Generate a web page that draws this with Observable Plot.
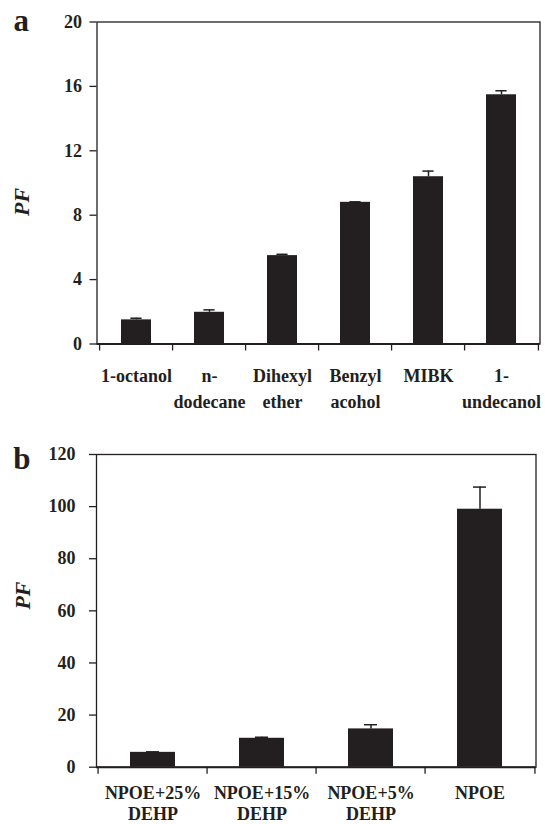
<!DOCTYPE html>
<html>
<head>
<meta charset="utf-8">
<script src="https://cdn.jsdelivr.net/npm/d3@7"></script>
<script src="https://cdn.jsdelivr.net/npm/@observablehq/plot@0.6"></script>
<style>
  html, body { margin: 0; padding: 0; background: #fff; }
  #chart svg { display: block; }
  #chart svg text { font-weight: bold; }
</style>
</head>
<body>
<div id="chart"></div>
<script>
// ---- Panel a data ----
const solventsA = ["1-octanol", "n-dodecane", "Dihexyl ether", "Benzyl acohol", "MIBK", "1-undecanol"];
const labelsA = ["1-octanol", "n-\ndodecane", "Dihexyl\nether", "Benzyl\nacohol", "MIBK", "1-\nundecanol"];
const pfA = [1.50, 1.97, 5.49, 8.80, 10.39, 15.48];
const errA = [0.10, 0.15, 0.08, 0.03, 0.35, 0.25];
const yTicksA = [0, 4, 8, 12, 16, 20];

// ---- Panel b data ----
const phasesB = ["NPOE+25% DEHP", "NPOE+15% DEHP", "NPOE+5% DEHP", "NPOE"];
const labelsB = ["NPOE+25%\nDEHP", "NPOE+15%\nDEHP", "NPOE+5%\nDEHP", "NPOE"];
const pfB = [5.7, 11.1, 14.7, 99.0];
const errB = [0.2, 0.4, 1.6, 8.5];
const yTicksB = [0, 20, 40, 60, 80, 100, 120];

const INK = "#231f20";
const FONT = "'Liberation Serif', 'Times New Roman', serif";

function panel(opt) {
  const {cats, labels, values, errs, yTicks, letter, W, H, ml, mr, mt, mb,
         pad, capInset, tickPad, xPad, lineHeight, letterDx, letterDy, pfDx, pfDy} = opt;
  const rows = cats.map((c, i) => ({cat: c, v: values[i], hi: values[i] + errs[i]}));
  const step = (W - ml - mr) / cats.length;
  const last = cats[cats.length - 1];
  return Plot.plot({
    width: W, height: H,
    marginLeft: ml, marginRight: mr, marginTop: mt, marginBottom: mb,
    style: {fontFamily: FONT, fontWeight: "bold", color: INK, background: "#fff"},
    x: {domain: cats, paddingInner: pad, paddingOuter: pad / 2, label: null},
    y: {domain: [yTicks[0], yTicks[yTicks.length - 1]], label: null},
    marks: [
      Plot.barY(rows, {x: "cat", y: "v", fill: INK}),
      Plot.ruleX(rows, {x: "cat", y1: "v", y2: "hi", stroke: INK, strokeWidth: 1.5}),
      Plot.tickY(rows, {x: "cat", y: "hi", stroke: INK, strokeWidth: 1.5, insetLeft: capInset, insetRight: capInset}),
      Plot.frame({stroke: INK, strokeWidth: 1.3}),
      Plot.ruleY([yTicks[0]], {stroke: INK, strokeWidth: 2}),
      Plot.axisY({ticks: yTicks, tickSize: 7, tickPadding: tickPad, fontSize: 18, fontWeight: "bold",
                  fill: INK, stroke: INK, strokeWidth: 1.3, label: null}),
      // category boundary ticks
      Plot.axisX({ticks: cats, tickSize: 7, dx: -step / 2, fill: "none", stroke: INK, strokeWidth: 1.3, label: null}),
      Plot.axisX({ticks: [last], tickSize: 7, dx: step / 2, fill: "none", stroke: INK, strokeWidth: 1.3, label: null}),
      // category labels
      Plot.axisX({ticks: cats, tickSize: 0, tickPadding: xPad, fontSize: 18, fontWeight: "bold", fill: INK,
                  lineHeight, tickFormat: (d) => labels[cats.indexOf(d)], label: null}),
      Plot.text([letter], {frameAnchor: "top-left", dx: letterDx, dy: letterDy, textAnchor: "start",
                           lineAnchor: "bottom", fontSize: 31, fontWeight: "bold", fill: INK}),
      Plot.text(["PF"], {frameAnchor: "left", dx: pfDx, dy: pfDy, rotate: -90, textAnchor: "middle",
                         lineAnchor: "middle", fontSize: 22, fontWeight: "bold", fontStyle: "italic", fill: INK})
    ]
  });
}

const chart = document.getElementById("chart");
chart.append(panel({
  cats: solventsA, labels: labelsA, values: pfA, errs: errA, yTicks: yTicksA, letter: "a",
  W: 545, H: 412, ml: 96.5, mr: 5.5, mt: 21.5, mb: 68.5,
  pad: 0.59, capInset: 9.4, tickPad: 8, xPad: 19.8, lineHeight: 1.44,
  letterDx: -83.5, letterDy: 8.5, pfDx: -75, pfDy: 19
}));
chart.append(panel({
  cats: phasesB, labels: labelsB, values: pfB, errs: errB, yTicks: yTicksB, letter: "b",
  W: 545, H: 412, ml: 96, mr: 9.5, mt: 42, mb: 57.3,
  pad: 0.585, capInset: 16, tickPad: 14, xPad: 16.6, lineHeight: 1.19,
  letterDx: -83.3, letterDy: 14, pfDx: -73.5, pfDy: -15.3
}));
</script>
</body>
</html>
